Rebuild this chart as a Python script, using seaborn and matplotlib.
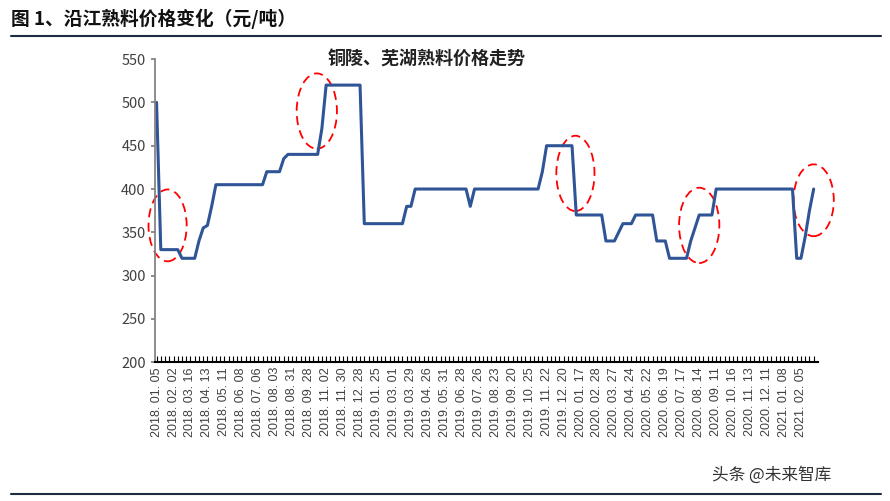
import matplotlib
matplotlib.use("Agg")
import matplotlib.pyplot as plt
import seaborn as sns
import numpy as np
import pandas as pd
from matplotlib.patches import Ellipse

sns.set_theme(style="white")
plt.rcParams['font.family'] = ['Noto Sans CJK SC', 'DejaVu Sans']

tick_labels = ["2018.01.05","2018.02.02","2018.03.16","2018.04.13","2018.05.11","2018.06.08",
    "2018.07.06","2018.08.03","2018.08.31","2018.09.28","2018.11.02","2018.11.30","2018.12.28",
    "2019.01.25","2019.03.01","2019.03.29","2019.04.26","2019.05.31","2019.06.28","2019.07.26",
    "2019.08.23","2019.09.20","2019.10.25","2019.11.22","2019.12.20","2020.01.17","2020.02.28",
    "2020.03.27","2020.04.24","2020.05.22","2020.06.19","2020.07.17","2020.08.14","2020.09.11",
    "2020.10.16","2020.11.13","2020.12.11","2021.01.08","2021.02.05"]

prices = ([500] + [330]*5 + [320]*4 + [340, 355, 358, 380] + [405]*12 + [420]*4 + [435]
          + [440]*8 + [470] + [520]*9 + [360]*10 + [380]*2 + [400]*13 + [380] + [400]*16
          + [420] + [450]*7 + [370]*7 + [340]*3 + [350] + [360]*3 + [370]*5 + [340]*3
          + [320]*5 + [340, 355] + [370]*4 + [400]*19 + [320]*2 + [345, 375, 400])

df = pd.DataFrame({"idx": np.arange(len(prices)), "price": prices})

fig = plt.figure(figsize=(8.9, 5.01), dpi=100)
ax = fig.add_axes([0.174, 0.277, 0.745, 0.605])
sns.lineplot(data=df, x="idx", y="price", ax=ax, color="#2F5597", linewidth=2.2)

ax.set_xlim(-0.4, len(prices))
ax.set_ylim(200, 550)
ax.set_yticks(range(200, 551, 50))
ax.tick_params(axis='y', labelsize=10.5, labelcolor="#404040", length=3, left=True, color="#808080")
ax.set_xticks(np.arange(len(tick_labels)) * 4)
ax.set_xticklabels([t.replace(".", ". ") for t in tick_labels], rotation=90, fontsize=9,
                   color="#404040", family=["Liberation Sans", "DejaVu Sans"])
ax.set_xticks(np.arange(len(prices)), minor=True)
ax.tick_params(axis='x', which='both', bottom=True, direction='in', length=4, color="black", width=0.8)
ax.set_xlabel(""); ax.set_ylabel("")
for s in ["top", "right"]:
    ax.spines[s].set_visible(False)
ax.spines["left"].set_color("#808080")
ax.spines["bottom"].set_color("black")
ax.spines["bottom"].set_linewidth(1.5)

ells = [(2.6, 358, 9, 83), (37.8, 490, 9.5, 87), (98.8, 418, 9, 87), (128, 358, 9.5, 87), (155, 387, 9.5, 83)]
for cx, cy, w, h in ells:
    ax.add_patch(Ellipse((cx, cy), w, h, fill=False, edgecolor="red", linestyle=(0, (5, 3)), linewidth=1.3, clip_on=False))

ax.text(0.41, 1.0, "铜陵、芜湖熟料价格走势", transform=ax.transAxes, ha="center", va="center",
        fontsize=13, fontweight="bold", color="#222222")

fig.text(0.012, 0.962, "图 1、沿江熟料价格变化（元/吨）", fontsize=13.5, fontweight="bold", va="center", color="#111111")
fig.add_artist(plt.Line2D([0.012, 0.99], [0.928, 0.928], color="#1F2A44", linewidth=1.5))
fig.add_artist(plt.Line2D([0.012, 0.99], [0.014, 0.014], color="#1F2A44", linewidth=1.5))
fig.text(0.80, 0.052, "头条 @未来智库", fontsize=12, color="#333333", va="center")

fig.savefig("out.png", dpi=100)
